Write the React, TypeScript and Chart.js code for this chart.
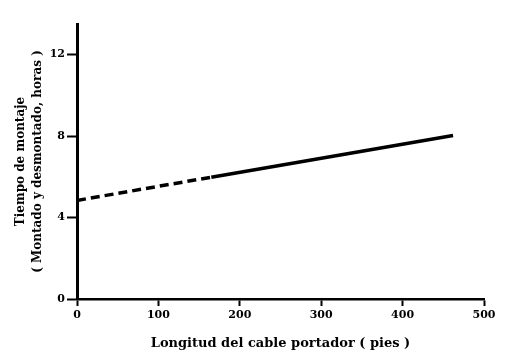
import React, { useEffect, useRef } from "react";
import { Chart, registerables } from "chart.js";

Chart.register(...registerables);

const xTickValues = [0, 100, 200, 300, 400, 500];
const yTickValues = [0, 4, 8, 12];
const dashedLengths = [0, 165];
const dashedHours = [4.84, 5.98];
const solidLengths = [165, 462];
const solidHours = [5.98, 8.03];

const xTitle = "Longitud del cable portador ( pies )";
const yTitle = ["Tiempo de montaje", "( Montado y desmontado, horas )"];

const FONT = "'DejaVu Serif', serif";

export default function App() {
  const ref = useRef<HTMLCanvasElement | null>(null);
  useEffect(() => {
    if (!ref.current) return;
    const toPts = (xs: number[], ys: number[]) => xs.map((x, i) => ({ x, y: ys[i] }));
    const chart = new Chart(ref.current, {
      type: "line",
      data: {
        datasets: [
          {
            data: toPts(dashedLengths, dashedHours),
            borderColor: "#000",
            borderWidth: 3.5,
            borderDash: [9, 5],
            pointRadius: 0,
            tension: 0,
          },
          {
            data: toPts(solidLengths, solidHours),
            borderColor: "#000",
            borderWidth: 3.5,
            pointRadius: 0,
            tension: 0,
          },
        ],
      },
      options: {
        responsive: false,
        animation: false,
        layout: { padding: { left: 0, right: 24, top: 24, bottom: 0 } },
        plugins: { legend: { display: false }, tooltip: { enabled: false } },
        scales: {
          x: {
            type: "linear",
            min: 0,
            max: 500,
            afterBuildTicks: (s: any) => {
              s.ticks = xTickValues.map((v) => ({ value: v }));
            },
            afterFit: (s: any) => {
              s.height = 61;
            },
            ticks: {
              color: "#000",
              font: { family: FONT, size: 11, weight: "bold" },
              padding: 3,
              maxRotation: 0,
            },
            grid: {
              drawOnChartArea: false,
              drawTicks: true,
              tickLength: 7,
              tickWidth: 2,
              tickColor: "#000",
            },
            border: { display: true, color: "#000", width: 2.5 },
            title: {
              display: true,
              text: xTitle,
              color: "#000",
              font: { family: FONT, size: 13, weight: "bold" },
              padding: { top: 0, bottom: 9 },
            },
          },
          y: {
            type: "linear",
            min: 0,
            max: 13.5,
            afterBuildTicks: (s: any) => {
              s.ticks = yTickValues.map((v) => ({ value: v }));
            },
            afterFit: (s: any) => {
              s.width = 77;
            },
            ticks: {
              color: "#000",
              font: { family: FONT, size: 11, weight: "bold" },
              padding: 2,
            },
            grid: {
              drawOnChartArea: false,
              drawTicks: true,
              tickLength: 10,
              tickWidth: 2,
              tickColor: "#000",
            },
            border: { display: true, color: "#000", width: 3 },
            title: {
              display: true,
              text: yTitle,
              color: "#000",
              font: { family: FONT, size: 12, weight: "bold", lineHeight: 1.45 },
              padding: { top: 12, bottom: 0 },
            },
          },
        },
      },
    } as any);
    return () => chart.destroy();
  }, []);
  return (
    <div style={{ position: "absolute", left: 0, top: 0, width: 508, height: 360, background: "#fff" }}>
      <canvas ref={ref} width={508} height={360} />
    </div>
  );
}
